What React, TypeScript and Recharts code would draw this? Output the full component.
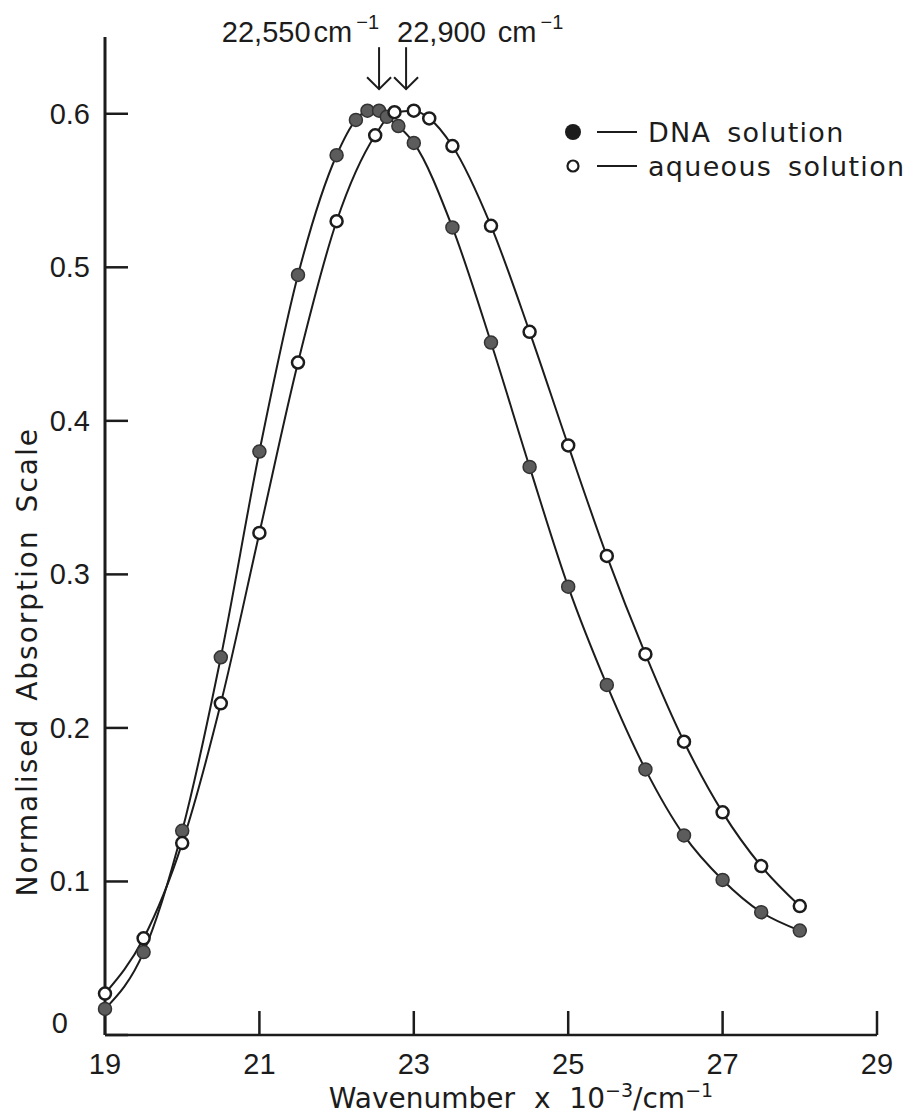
import { ComposedChart, Line, XAxis, YAxis, Legend, ReferenceDot } from "recharts"

// absorption band, DNA-bound dye (filled markers)
const dnaWavenumber = [19, 19.5, 20, 20.5, 21, 21.5, 22, 22.25, 22.4, 22.55, 22.65, 22.8, 23, 23.5, 24, 24.5, 25, 25.5, 26, 26.5, 27, 27.5, 28]
const dnaAbsorption = [0.017, 0.054, 0.133, 0.246, 0.38, 0.495, 0.573, 0.596, 0.602, 0.602, 0.598, 0.592, 0.581, 0.526, 0.451, 0.37, 0.292, 0.228, 0.173, 0.13, 0.101, 0.08, 0.068]

// same dye in water (open markers)
const aqueousWavenumber = [19, 19.5, 20, 20.5, 21, 21.5, 22, 22.5, 22.75, 23, 23.2, 23.5, 24, 24.5, 25, 25.5, 26, 26.5, 27, 27.5, 28]
const aqueousAbsorption = [0.027, 0.063, 0.125, 0.216, 0.327, 0.438, 0.53, 0.586, 0.601, 0.602, 0.597, 0.579, 0.527, 0.458, 0.384, 0.312, 0.248, 0.191, 0.145, 0.11, 0.084]

const xTicks = [19, 21, 23, 25, 27, 29]
const yTicks = [0, 0.1, 0.2, 0.3, 0.4, 0.5, 0.6]

const peakWavenumbers = [22.55, 22.9]
const peakLabels = ["22,550", "22,900"]

const seriesNames = ["DNA solution", "aqueous solution"]

const INK = "#1c1c1c"
const ARROW_TIP = 0.616

const dnaData = dnaWavenumber.map((x, i) => ({ x, y: dnaAbsorption[i] }))
const aqueousData = aqueousWavenumber.map((x, i) => ({ x, y: aqueousAbsorption[i] }))

function AbsorptionTick(props: any) {
  const { x, y, payload } = props
  const zero = payload.value === 0
  return (
    <text
      x={zero ? x - 22 : x}
      y={zero ? y - 12 : y}
      textAnchor="end"
      dominantBaseline="central"
      fontFamily="Liberation Sans"
      fontSize={29}
      fill={INK}
    >
      {zero ? "0" : payload.value.toFixed(1)}
    </text>
  )
}

// arrow pointing down at each band maximum, with its wavenumber above
function PeakArrow(props: any) {
  const { cx, cy, index } = props
  const left = index === 0
  return (
    <g stroke={INK} fill="none" strokeWidth={2}>
      <line x1={cx} y1={cy - 42} x2={cx} y2={cy} />
      <polyline points={`${cx - 12},${cy - 12} ${cx},${cy} ${cx + 12},${cy - 12}`} />
      <text
        x={left ? cx : cx - 9}
        y={cy - 47}
        textAnchor={left ? "end" : "start"}
        fontFamily="Liberation Sans"
        fontSize={29}
        fill={INK}
        stroke="none"
      >
        {peakLabels[index]}
        <tspan dx={left ? 3 : 12}>cm</tspan>
        <tspan dx={4} dy={-13} fontSize={20}>−1</tspan>
      </text>
    </g>
  )
}

function renderLegend() {
  return (
    <div style={{ fontFamily: "DejaVu Sans", fontSize: 27, color: INK, letterSpacing: 1.3, wordSpacing: 6 }}>
      {seriesNames.map((name, i) => (
        <div key={name} style={{ display: "flex", alignItems: "center", height: 34 }}>
          <svg width={84} height={34}>
            {i === 0 ? (
              <circle cx={13} cy={17} r={8} fill={INK} />
            ) : (
              <circle cx={13} cy={17} r={5.5} fill="#fff" stroke={INK} strokeWidth={2.2} />
            )}
            <line x1={37} x2={77} y1={17} y2={17} stroke={INK} strokeWidth={2} />
          </svg>
          <span style={{ marginLeft: 4, lineHeight: 1, whiteSpace: "nowrap" }}>{name}</span>
        </div>
      ))}
    </div>
  )
}

export default function App() {
  return (
    <div style={{ position: "absolute", left: 0, top: 0, background: "#fff" }}>
      <ComposedChart width={913} height={1120} margin={{ top: 37, right: 36, bottom: 0, left: 0 }}>
        <XAxis
          dataKey="x"
          type="number"
          domain={[19, 29]}
          ticks={xTicks}
          height={85}
          axisLine={{ stroke: INK, strokeWidth: 2.5 }}
          tickLine={{ stroke: INK, strokeWidth: 2.5 }}
          tickSize={-24}
          tickMargin={42}
          tick={{ fontFamily: "Liberation Sans", fontSize: 29, fill: INK }}
          label={(p: any) => {
            const vb = p.viewBox
            return (
              <text
                x={vb.x + 416}
                y={vb.y + 73}
                textAnchor="middle"
                fontFamily="DejaVu Sans"
                fontSize={28}
                fill={INK}
                style={{ wordSpacing: 10 }}
              >
                Wavenumber x 10
                <tspan dy={-11} fontSize={19}>−3</tspan>
                <tspan dy={11}>/cm</tspan>
                <tspan dy={-11} fontSize={19}>−1</tspan>
              </text>
            )
          }}
        />
        <YAxis
          type="number"
          domain={[0, 0.65]}
          ticks={yTicks}
          width={105}
          axisLine={{ stroke: INK, strokeWidth: 3 }}
          tickLine={{ stroke: INK, strokeWidth: 2.5 }}
          tickSize={-23}
          tickMargin={38}
          tick={<AbsorptionTick />}
          label={(p: any) => {
            const vb = p.viewBox
            const cx = vb.x + 28
            const cy = vb.y + vb.height * 0.626
            return (
              <text
                x={cx}
                y={cy}
                transform={`rotate(-90 ${cx} ${cy})`}
                textAnchor="middle"
                dominantBaseline="central"
                fontFamily="DejaVu Sans"
                fontSize={28}
                letterSpacing={2}
                fill={INK}
                style={{ wordSpacing: 6 }}
              >
                Normalised Absorption Scale
              </text>
            )
          }}
        />
        <Legend
          layout="horizontal"
          verticalAlign="middle"
          align="center"
          content={renderLegend}
          wrapperStyle={{ left: 560, top: 115, width: 350, height: "auto" }}
        />
        <Line
          data={dnaData}
          dataKey="y"
          name={seriesNames[0]}
          type="monotone"
          stroke={INK}
          strokeWidth={2}
          dot={{ r: 6.5, fill: "#5c5c5c", stroke: "#333", strokeWidth: 1.5 }}
          isAnimationActive={false}
        />
        <Line
          data={aqueousData}
          dataKey="y"
          name={seriesNames[1]}
          type="monotone"
          stroke={INK}
          strokeWidth={2}
          dot={{ r: 6, fill: "#fff", stroke: INK, strokeWidth: 2.5 }}
          isAnimationActive={false}
        />
        {peakWavenumbers.map((w, i) => (
          <ReferenceDot
            key={w}
            x={w}
            y={ARROW_TIP}
            ifOverflow="visible"
            shape={(p: any) => <PeakArrow {...p} index={i} />}
          />
        ))}
      </ComposedChart>
    </div>
  )
}
